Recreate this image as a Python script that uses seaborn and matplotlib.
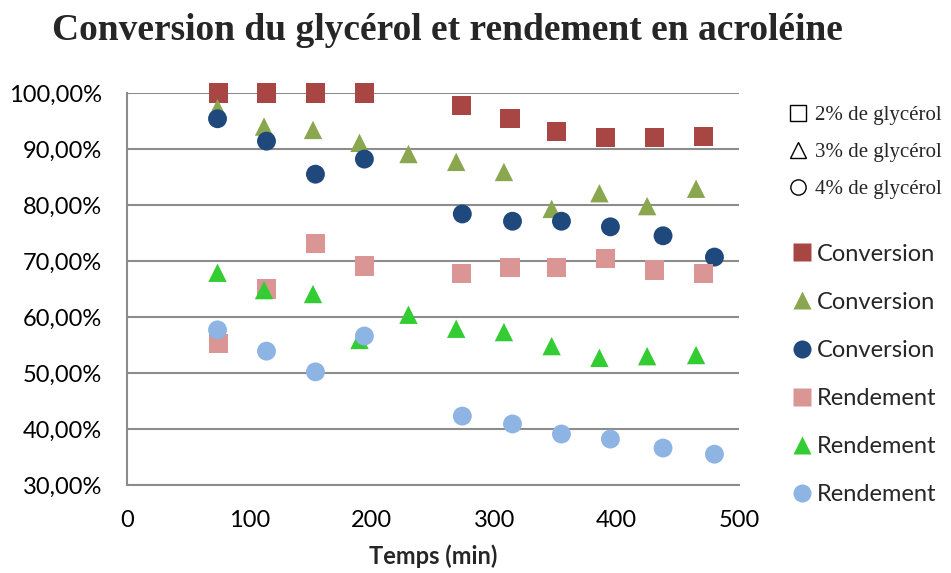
import numpy as np
import pandas as pd
import matplotlib
matplotlib.use('Agg')
import matplotlib.pyplot as plt
from matplotlib.lines import Line2D
import seaborn as sns

# time points (min)
t_sq = [75, 114, 154, 194, 273, 313, 351, 391, 431, 471]
t_tri = [74, 112, 152, 190, 230, 269, 308, 347, 386, 425, 465]
t_circ = [74, 114, 154, 194, 274, 315, 355, 395, 438, 480]

# values in %
conv_2 = [100.0, 100.0, 100.0, 100.0, 97.7, 95.5, 93.2, 92.0, 92.1, 92.3]
conv_3 = [97.3, 94.0, 93.4, 91.1, 89.1, 87.7, 85.9, 79.3, 82.1, 79.8, 82.9]
conv_4 = [95.4, 91.4, 85.5, 88.2, 78.4, 77.1, 77.1, 76.1, 74.5, 70.7]
rend_2 = [55.2, 65.0, 73.2, 69.1, 67.7, 68.9, 68.9, 70.5, 68.4, 67.7]
rend_3 = [67.9, 64.8, 64.1, 55.9, 60.4, 57.9, 57.3, 54.8, 52.7, 53.0, 53.2]
rend_4 = [57.7, 53.9, 50.2, 56.6, 42.3, 40.9, 39.1, 38.2, 36.6, 35.5]

series_names = ['Conv 2%', 'Conv 3%', 'Conv 4%', 'Rend 2%', 'Rend 3%', 'Rend 4%']
legend_labels = ['Conversion', 'Conversion', 'Conversion', 'Rendement', 'Rendement', 'Rendement']
colors = ['#A84644', '#8AA64E', '#1F497D', '#D99694', '#33CC33', '#8EB4E3']
markers = ['s', '^', 'o', 's', '^', 'o']
sizes = [190, 175, 185, 190, 175, 185]

frames = []
for name, t, v in zip(series_names,
                      [t_sq, t_tri, t_circ, t_sq, t_tri, t_circ],
                      [conv_2, conv_3, conv_4, rend_2, rend_3, rend_4]):
    frames.append(pd.DataFrame({'time': t, 'value': v, 'series': name}))
df = pd.concat(frames, ignore_index=True)

sns.set_style('white')
plt.rcParams['font.family'] = ['Lato', 'DejaVu Sans']

fig = plt.figure(figsize=(9.51, 5.73), dpi=100)
ax = fig.add_axes([0.1335, 0.1536, 0.6435, 0.6841])

for name, c, m, s in zip(series_names, colors, markers, sizes):
    sns.scatterplot(data=df[df.series == name], x='time', y='value', color=c,
                    marker=m, s=s, edgecolor='none', linewidth=0, ax=ax,
                    legend=False, clip_on=False, zorder=3)

ax.set_xlim(0, 500)
ax.set_ylim(30, 100)
ax.set_xticks(np.arange(0, 501, 100))
ax.set_yticks(np.arange(30, 101, 10))
ax.set_yticklabels([f'{v},00%' for v in range(30, 101, 10)])
ax.tick_params(axis='both', length=0, labelsize=17, colors='black')
ax.tick_params(axis='y', pad=18)
ax.tick_params(axis='x', pad=18)
ax.grid(axis='y', color='#8C8C8C', linewidth=1.5)
ax.grid(axis='x', visible=False)
ax.set_axisbelow(True)
for side in ['top', 'right']:
    ax.spines[side].set_visible(False)
for side in ['left', 'bottom']:
    ax.spines[side].set_color('#8C8C8C')
    ax.spines[side].set_linewidth(1.5)

ax.set_xlabel('Temps (min)', fontsize=17, fontweight='bold', labelpad=10)
ax.set_ylabel('')

fig.text(0.47, 0.930, 'Conversion du glycérol et rendement en acroléine',
         ha='center', va='baseline', fontsize=27, fontweight='bold',
         family=['Liberation Serif', 'DejaVu Serif'])

# legend: hollow shapes for the concentration
shape_handles = [Line2D([], [], ls='none', marker=m, markersize=11, markerfacecolor='white',
                        markeredgecolor='black', markeredgewidth=1.0)
                 for m in ['s', '^', 'o']]
leg1 = fig.legend(shape_handles, ['2% de glycérol', '3% de glycérol', '4% de glycérol'],
                  loc='upper left', bbox_to_anchor=(0.811, 0.849), frameon=False,
                  handlelength=0.8, handletextpad=0.4, labelspacing=0.84,
                  prop={'family': ['Liberation Serif'], 'size': 15})

color_handles = [Line2D([], [], ls='none', marker=m, markersize=13, markerfacecolor=c,
                        markeredgecolor='none')
                 for m, c in zip(markers, colors)]
leg2 = fig.legend(color_handles, legend_labels, loc='upper left',
                  bbox_to_anchor=(0.812, 0.612), frameon=False,
                  handlelength=0.7, handletextpad=0.3, labelspacing=1.15,
                  prop={'size': 17})

fig.savefig('out.png', dpi=100)
